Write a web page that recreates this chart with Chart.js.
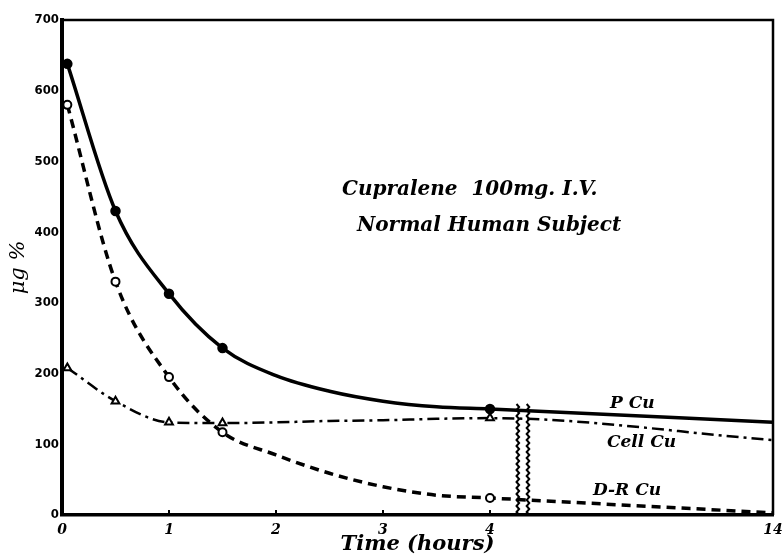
<!DOCTYPE html>
<html>
<head>
<meta charset="utf-8">
<script src="https://cdn.jsdelivr.net/npm/chart.js@4.4.1/dist/chart.umd.min.js"></script>
<style>
html,body{margin:0;padding:0;background:#fff}
#wrap{width:783px;height:558px}
</style>
</head>
<body>
<div id="wrap"><canvas id="copperChart" width="783" height="558"></canvas></div>
<script>

// ===============================
// DATA
// ===============================

const times = [0.05, 0.5, 1, 1.5, 2, 2.5, 3, 3.5, 4, 14]
const pCu = [638, 430, 313, 236, 197, 175, 161, 153, 150, 131]
const drCu = [580, 330, 195, 117, 85, 59, 40, 28, 24, 3]
const cellCu = [208, 161, 131, 130, 131, 133, 134, 136, 137, 106]
const marked = [true, true, true, true, false, false, false, false, true, false]

const xTickHours = [0, 1, 2, 3, 4, 14]
const yTicks = [0, 100, 200, 300, 400, 500, 600, 700]

// time axis is broken after 4 h, the 4..14 h stretch is squeezed
const BREAK_AT = 4
const SQUEEZE = 0.2645

function axisPos(t){
if(t <= BREAK_AT) return t
return BREAK_AT + (t - BREAK_AT)*SQUEEZE
}

function series(values){
return times.map((t,i)=>({x:axisPos(t), y:values[i]}))
}

function radii(r){
return marked.map(m => m ? r : 0)
}

const serif = "'DejaVu Serif', 'Liberation Serif', serif"
const narrow = "'DejaVu Sans Condensed', 'Liberation Sans Narrow', 'Liberation Sans', sans-serif"

// ===============================
// PLUGIN: frame, axis break, labels
// ===============================

const figureExtras = {
id:"figureExtras",
afterDatasetsDraw(chart){

const ctx = chart.ctx
const a = chart.chartArea
const xs = chart.scales.x
const ys = chart.scales.y

ctx.save()

// top + right frame
ctx.strokeStyle = "#000"
ctx.lineWidth = 2.5
ctx.beginPath()
ctx.moveTo(a.left, a.top)
ctx.lineTo(a.right, a.top)
ctx.lineTo(a.right, a.bottom)
ctx.stroke()

// small upward ticks on the time axis
ctx.lineWidth = 2
xs.ticks.forEach(tk=>{
if(tk.value === 0 || tk.value === xs.max) return
const px = xs.getPixelForValue(tk.value)
ctx.beginPath()
ctx.moveTo(px, a.bottom)
ctx.lineTo(px, a.bottom - 5)
ctx.stroke()
})

// wavy break marks
const breakTop = ys.getPixelForValue(158)
;[4.26, 4.355].forEach(v=>{
const px = xs.getPixelForValue(v)
ctx.beginPath()
let side = 1
for(let py = a.bottom; py >= breakTop; py -= 3){
const wx = px + side*1.3
if(py === a.bottom) ctx.moveTo(wx, py)
else ctx.lineTo(wx, py)
side = -side
}
ctx.lineWidth = 2
ctx.stroke()
})

// annotations
ctx.fillStyle = "#000"
ctx.textBaseline = "middle"
ctx.textAlign = "left"
ctx.font = "italic bold 20px " + serif
ctx.fillText("Cupralene  100mg. I.V.", 342, 190)
ctx.fillText("Normal Human Subject", 357, 226)

ctx.font = "italic bold 17px " + serif
ctx.fillText("P Cu", 610, 404)
ctx.fillText("Cell Cu", 607, 443)
ctx.fillText("D-R Cu", 593, 491)

ctx.restore()

}
}

// ===============================
// CHART
// ===============================

const ctx = document.getElementById("copperChart")

new Chart(ctx,{

type:"line",

data:{
datasets:[

{
label:"P Cu",
data:series(pCu),
borderColor:"#000",
borderWidth:3.5,
pointRadius:radii(3.5),
pointBackgroundColor:"#000",
pointBorderColor:"#000",
pointStyle:"circle"
},

{
label:"D-R Cu",
data:series(drCu),
borderColor:"#000",
borderWidth:3.5,
borderDash:[9,6],
pointRadius:radii(4),
pointBackgroundColor:"#fff",
pointBorderColor:"#000",
pointBorderWidth:2,
pointStyle:"circle"
},

{
label:"Cell Cu",
data:series(cellCu),
borderColor:"#000",
borderWidth:2.5,
borderDash:[12,5,3,5],
pointRadius:radii(4.5),
pointBackgroundColor:"#fff",
pointBorderColor:"#000",
pointBorderWidth:2,
pointStyle:"triangle"
}

]
},

options:{
responsive:false,
animation:false,
cubicInterpolationMode:"monotone",

layout:{
padding:{top:20, right:10, left:0, bottom:0}
},

plugins:{
legend:{display:false},
tooltip:{enabled:false}
},

elements:{
line:{tension:0.4, fill:false}
},

scales:{

x:{
type:"linear",
min:0,
max:axisPos(14),
grid:{display:false, drawTicks:false},
border:{display:true, color:"#000", width:3.5},
afterBuildTicks(scale){
scale.ticks = xTickHours.map(h=>({value:axisPos(h)}))
},
afterFit(scale){
scale.height = 43
scale.paddingLeft = 0
scale.paddingRight = 0
},
ticks:{
color:"#000",
padding:7,
maxRotation:0,
autoSkip:false,
font:{family:serif, size:14, weight:"bold", style:"italic"},
callback:(v,i)=>String(xTickHours[i])
},
title:{
display:true,
text:"Time (hours)",
color:"#000",
padding:{top:0, bottom:1},
font:{family:serif, size:21, weight:"bold", style:"italic"}
}
},

y:{
min:0,
max:700,
grid:{display:false, drawTicks:false},
border:{display:true, color:"#000", width:4},
afterBuildTicks(scale){
scale.ticks = yTicks.map(v=>({value:v}))
},
afterFit(scale){
scale.width = 62
},
ticks:{
color:"#000",
padding:3,
font:{family:narrow, size:13, weight:"bold"}
},
title:{
display:true,
text:"μg %",
color:"#000",
padding:{top:6, bottom:0},
font:{family:serif, size:21, style:"italic"}
}
}

}

},

plugins:[figureExtras]

})

</script>
</body>
</html>
